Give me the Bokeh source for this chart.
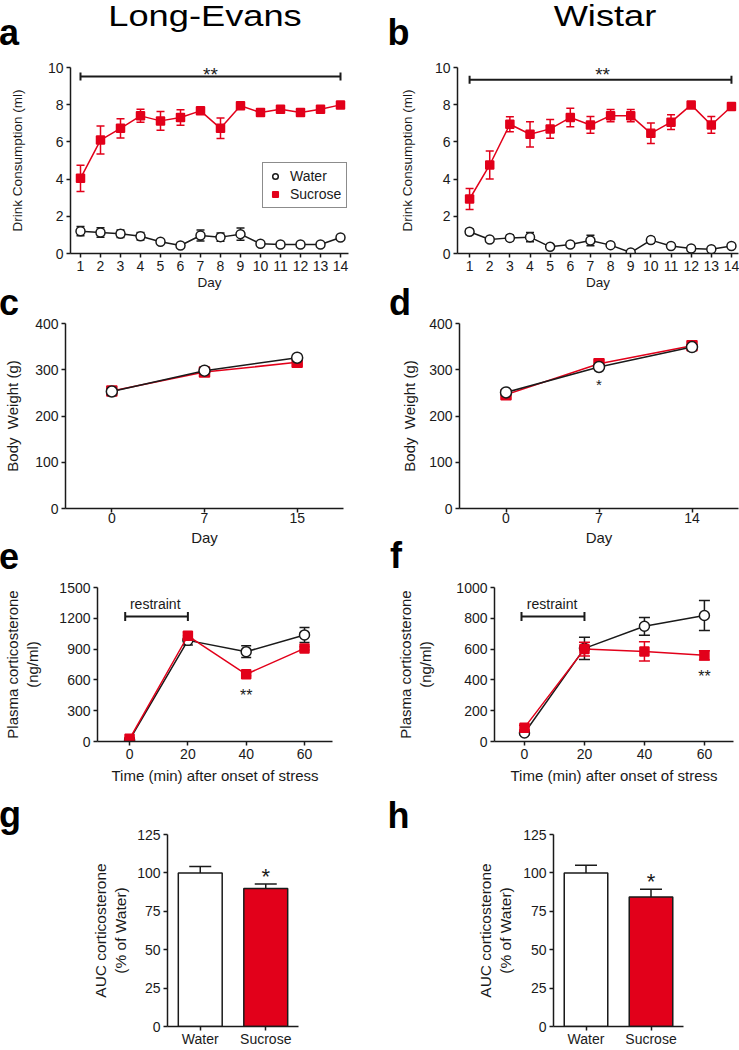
from bokeh.plotting import figure
from bokeh.layouts import column, row
from bokeh.models import Range1d, FactorRange, FixedTicker, Legend, LegendItem, Div
from bokeh.core.properties import value
from bokeh.embed import file_html
from bokeh.resources import INLINE

RED = "#e2001a"
INK = "#1a1a1a"
FONT = "Liberation Sans"

# ---------------- data ----------------
days = list(range(1, 15))
le_water = [1.20, 1.13, 1.06, 0.93, 0.63, 0.43, 0.97, 0.88, 1.04, 0.52, 0.48, 0.48, 0.48, 0.86]
le_water_err = [0.25, 0.25, 0.2, 0.2, 0.05, 0.05, 0.3, 0.22, 0.33, 0.05, 0.05, 0.05, 0.05, 0.05]
le_sucrose = [4.04, 6.10, 6.73, 7.40, 7.13, 7.31, 7.67, 6.73, 7.94, 7.58, 7.76, 7.58, 7.76, 7.99]
le_sucrose_err = [0.70, 0.75, 0.52, 0.35, 0.50, 0.42, 0.15, 0.55, 0.10, 0.15, 0.15, 0.15, 0.12, 0.05]

wi_water = [1.17, 0.75, 0.84, 0.88, 0.36, 0.48, 0.70, 0.45, 0.05, 0.72, 0.40, 0.27, 0.23, 0.40]
wi_water_err = [0.15, 0.05, 0.15, 0.25, 0.05, 0.05, 0.28, 0.12, 0.03, 0.15, 0.05, 0.03, 0.03, 0.05]
wi_sucrose = [2.93, 4.76, 6.95, 6.41, 6.70, 7.31, 6.91, 7.41, 7.41, 6.46, 7.06, 7.99, 6.91, 7.90]
wi_sucrose_err = [0.57, 0.75, 0.40, 0.68, 0.50, 0.50, 0.45, 0.33, 0.33, 0.55, 0.40, 0.05, 0.45, 0.05]

le_bw_days = ["0", "7", "15"]
le_bw_water = [253, 298, 326]
le_bw_sucrose = [254, 295, 316]
wi_bw_days = ["0", "7", "14"]
wi_bw_water = [251, 306, 349]
wi_bw_sucrose = [246, 313, 352]

cort_time = [0, 20, 40, 60]
le_cort_water = [15, 985, 875, 1038]
le_cort_water_err = [10, 45, 57, 73]
le_cort_sucrose = [26, 1030, 655, 907]
le_cort_sucrose_err = [10, 35, 15, 15]
wi_cort_water = [55, 605, 748, 818]
wi_cort_water_err = [10, 72, 58, 97]
wi_cort_sucrose = [90, 600, 585, 560]
wi_cort_sucrose_err = [15, 45, 62, 30]

groups = ["Water", "Sucrose"]
le_auc = [100, 89.8]
le_auc_err = [4.2, 3.0]
wi_auc = [100, 84.3]
wi_auc_err = [5.0, 5.0]

# significance brackets / marks
sig_a = dict(x0=1, x1=14, y=9.52, tx=7.5, ty=9.62)
sig_b = dict(x0=1, x1=14, y=9.34, tx=7.6, ty=9.62)
restraint_e = dict(x0=-1.5, x1=20, y=1218, tx=8.8, ty=1340)
restraint_f = dict(x0=-1, x1=20, y=811, tx=9.2, ty=890)


def make_fig(w, h, xr, yr, l, r, t, b, label_size="15px"):
    p = figure(width=w, height=h, x_range=xr, y_range=yr, output_backend="svg",
               toolbar_location=None, tools="",
               min_border_left=l, min_border_right=r, min_border_top=t, min_border_bottom=b)
    p.outline_line_color = None
    p.xgrid.grid_line_color = None
    p.ygrid.grid_line_color = None
    p.background_fill_color = "white"
    p.border_fill_color = "white"
    for ax in p.axis:
        ax.axis_line_width = 1.5
        ax.axis_line_color = INK
        ax.major_tick_line_color = INK
        ax.major_tick_line_width = 1.5
        ax.major_tick_out = 4
        ax.major_tick_in = 0
        ax.minor_tick_line_color = None
        ax.major_label_text_font = FONT
        ax.major_label_text_font_size = "14px"
        ax.major_label_text_color = INK
        ax.axis_label_text_font = FONT
        ax.axis_label_text_font_size = label_size
        ax.axis_label_text_font_style = "normal"
        ax.axis_label_text_color = INK
        ax.major_label_standoff = 3
    return p


def add_text(p, x, y, text, size="14px"):
    p.text(x=[x], y=[y], text=[text], text_font=value(FONT), text_font_size=size,
           text_align="center", text_baseline="middle", text_color=INK)


def add_bracket(p, d, cap=8):
    p.segment(x0=[d["x0"]], y0=[d["y"]], x1=[d["x1"]], y1=[d["y"]], line_color=INK, line_width=2)
    p.scatter(x=[d["x0"], d["x1"]], y=[d["y"], d["y"]], marker="dash", angle=1.5708,
              size=cap, line_color=INK, line_width=2)


def series(p, x, y, err, kind, msize, cap):
    if kind == "water":
        col, fill, marker = INK, "white", "circle"
    else:
        col, fill, marker = RED, RED, "square"
    p.line(x, y, line_color=col, line_width=1.5)
    if err is not None:
        lo = [a - e for a, e in zip(y, err)]
        hi = [a + e for a, e in zip(y, err)]
        p.segment(x0=x, y0=lo, x1=x, y1=hi, line_color=col, line_width=1.5)
        p.scatter(x=x + x, y=lo + hi, marker="dash", size=cap, line_color=col, line_width=1.5)
    return p.scatter(x=x, y=y, marker=marker, size=msize, fill_color=fill,
                     line_color=col, line_width=1.5)


def span(text, left, baseline, size, bold=False, center=False, sx=1.0):
    top = baseline - 0.8465 * size
    st = ("position:absolute;top:%.1fpx;font-family:'Liberation Sans',Arial,sans-serif;"
          "font-size:%.1fpx;line-height:%.1fpx;white-space:nowrap;color:#000;" % (top, size, size))
    if bold:
        st += "font-weight:bold;"
    if center:
        st += ("left:%.1fpx;width:400px;text-align:center;transform:scaleX(%.2f);"
               "transform-origin:50%% 50%%;" % (left - 200, sx))
    else:
        st += "left:%.1fpx;" % left
    return '<span style="%s">%s</span>' % (st, text)


def header(w, h, spans):
    html = ('<div style="position:relative;width:%dpx;height:%dpx;overflow:visible;">' % (w, h)
            + "".join(spans) + "</div>")
    return Div(text=html, width=w, height=h, margin=0, styles={"overflow": "visible"})


LS = 36  # panel letter size

# ---------------- row 1 ----------------
h1 = header(739, 47, [span("a", -1, 45, LS, bold=True),
                      span("Long-Evans", 205, 26, 29, center=True, sx=1.25),
                      span("b", 387.5, 45, LS, bold=True),
                      span("Wistar", 605, 26, 29, center=True, sx=1.25)])

fa = make_fig(370, 245, Range1d(0.5, 14.4), Range1d(0, 10), 70, 22, 20, 39, "13.5px")
fa.xaxis.ticker = FixedTicker(ticks=days)
fa.yaxis.ticker = FixedTicker(ticks=[0, 2, 4, 6, 8, 10])
fa.xaxis.axis_label = "Day"
fa.yaxis.axis_label = "Drink Consumption (ml)"
fa.yaxis.axis_label_standoff = 20
fa.xaxis.axis_label_standoff = 1
rw = series(fa, days, le_water, le_water_err, "water", 9, 8)
rs = series(fa, days, le_sucrose, le_sucrose_err, "sucrose", 8, 8)
add_bracket(fa, sig_a, 8)
add_text(fa, sig_a["tx"], sig_a["ty"], "**", "19px")
leg = Legend(items=[LegendItem(label="Water", renderers=[rw]),
                    LegendItem(label="Sucrose", renderers=[rs])],
             location=(192, 45), border_line_color=INK, border_line_width=1,
             background_fill_color="white", background_fill_alpha=1,
             label_text_font=FONT, label_text_font_size="14px", label_text_color=INK,
             padding=5, spacing=2, glyph_width=14, glyph_height=16, label_height=16,
             label_standoff=8, margin=0)
fa.add_layout(leg)

fb = make_fig(369, 245, Range1d(0.4, 14.35), Range1d(0, 10), 87, 1, 20, 39, "13.5px")
fb.xaxis.ticker = FixedTicker(ticks=days)
fb.yaxis.ticker = FixedTicker(ticks=[0, 2, 4, 6, 8, 10])
fb.xaxis.axis_label = "Day"
fb.yaxis.axis_label = "Drink Consumption (ml)"
fb.yaxis.axis_label_standoff = 17
fb.xaxis.axis_label_standoff = 1
series(fb, days, wi_water, wi_water_err, "water", 9, 8)
series(fb, days, wi_sucrose, wi_sucrose_err, "sucrose", 8, 8)
add_bracket(fb, sig_b, 8)
add_text(fb, sig_b["tx"], sig_b["ty"], "**", "19px")

# ---------------- row 2 ----------------
h2 = header(739, 24, [span("c", -1, 23, LS, bold=True),
                      span("d", 389, 23, LS, bold=True)])

fc = make_fig(370, 232, FactorRange(*le_bw_days), Range1d(0, 400), 65, 27, 7, 39)
fc.yaxis.ticker = FixedTicker(ticks=[0, 100, 200, 300, 400])
fc.xaxis.axis_label = "Day"
fc.yaxis.axis_label = "Body\u00a0 Weight (g)"
fc.yaxis.axis_label_standoff = 11
fc.xaxis.axis_label_standoff = 3
fc.xaxis.major_label_standoff = 0
series(fc, le_bw_days, le_bw_sucrose, None, "sucrose", 10, 8)
series(fc, le_bw_days, le_bw_water, None, "water", 11, 8)

fd = make_fig(369, 232, FactorRange(*wi_bw_days), Range1d(0, 400), 89, 1, 6, 40)
fd.yaxis.ticker = FixedTicker(ticks=[0, 100, 200, 300, 400])
fd.xaxis.axis_label = "Day"
fd.yaxis.axis_label = "Body\u00a0 Weight (g)"
fd.yaxis.axis_label_standoff = 8
fd.xaxis.axis_label_standoff = 3
fd.xaxis.major_label_standoff = 0
series(fd, wi_bw_days, wi_bw_sucrose, None, "sucrose", 10, 8)
series(fd, wi_bw_days, wi_bw_water, None, "water", 11, 8)
add_text(fd, "7", 268, "*", "15px")

# ---------------- row 3 ----------------
h3 = header(739, 22, [span("e", -1, 21.5, LS, bold=True),
                      span("f", 390, 20, LS, bold=True)])

fe = make_fig(370, 225, Range1d(-11, 69.6), Range1d(0, 1500), 97, 38, 17, 54)
fe.xaxis.ticker = FixedTicker(ticks=cort_time)
fe.yaxis.ticker = FixedTicker(ticks=[0, 300, 600, 900, 1200, 1500])
fe.xaxis.axis_label = "Time (min) after onset of stress"
fe.yaxis.axis_label = "Plasma corticosterone\n(ng/ml)"
fe.yaxis.axis_label_standoff = 15
fe.xaxis.axis_label_standoff = 5
fe.xaxis.major_label_standoff = 3
series(fe, cort_time, le_cort_water, le_cort_water_err, "water", 10, 10)
series(fe, cort_time, le_cort_sucrose, le_cort_sucrose_err, "sucrose", 9, 10)
add_bracket(fe, restraint_e, 9)
add_text(fe, restraint_e["tx"], restraint_e["ty"], "restraint", "14px")
add_text(fe, 40, 450, "**", "16px")

ff = make_fig(369, 225, Range1d(-10, 69.7), Range1d(0, 1000), 124, 6, 12, 54)
ff.xaxis.ticker = FixedTicker(ticks=cort_time)
ff.yaxis.ticker = FixedTicker(ticks=[0, 200, 400, 600, 800, 1000])
ff.xaxis.axis_label = "Time (min) after onset of stress"
ff.yaxis.axis_label = "Plasma corticosterone\n(ng/ml)"
ff.yaxis.axis_label_standoff = 19
ff.xaxis.axis_label_standoff = 5
ff.xaxis.major_label_standoff = 3
series(ff, cort_time, wi_cort_water, wi_cort_water_err, "water", 10, 11)
series(ff, cort_time, wi_cort_sucrose, wi_cort_sucrose_err, "sucrose", 9, 11)
add_bracket(ff, restraint_f, 9)
add_text(ff, restraint_f["tx"], restraint_f["ty"], "restraint", "14px")
add_text(ff, 60, 421, "**", "16px")


# ---------------- row 4 ----------------
def bar_panel(w, vals, errs, star_y, l, r, standoff):
    p = make_fig(w, 254, FactorRange(*groups), Range1d(0, 125), l, r, 39, 19, "15.5px")
    p.yaxis.ticker = FixedTicker(ticks=[0, 25, 50, 75, 100, 125])
    p.yaxis.axis_label = "AUC corticosterone\n(% of Water)"
    p.yaxis.axis_label_standoff = standoff
    p.xaxis.major_label_standoff = 0
    p.xaxis.major_label_text_font_size = "14px"
    hi = [v + e for v, e in zip(vals, errs)]
    p.segment(x0=groups, y0=vals, x1=groups, y1=hi, line_color=INK, line_width=1.5)
    p.scatter(x=groups, y=hi, marker="dash", size=22, line_color=INK, line_width=1.5)
    p.vbar(x=groups, top=vals, bottom=0, width=0.67, fill_color=["white", RED],
           line_color=INK, line_width=1.5)
    add_text(p, "Sucrose", star_y, "*", "22px")
    return p


dg = header(60, 254, [span("g", -1, 32, LS, bold=True)])
fg = bar_panel(310, le_auc, le_auc_err, 97.9, 107, 72, 5)
dh = header(60, 254, [span("h", 17.5, 33, LS, bold=True)])
fh = bar_panel(309, wi_auc, wi_auc_err, 94.3, 123, 56, 6)

layout = column(h1, row(fa, fb), h2, row(fc, fd), h3, row(fe, ff), row(dg, fg, dh, fh))
open("out.html", "w").write(file_html(layout, INLINE))
